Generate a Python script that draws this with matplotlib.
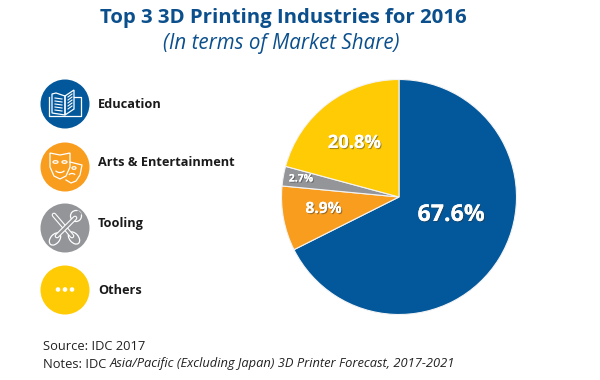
import matplotlib
matplotlib.use('Agg')
from matplotlib import pyplot as plt
from matplotlib.patches import Circle, Ellipse, Arc, Polygon
import matplotlib.patheffects as pe

plt.rcParams['font.family'] = ['Open Sans', 'DejaVu Sans']

categories = ['Education', 'Arts & Entertainment', 'Tooling', 'Others']
shares = [67.6, 8.9, 2.7, 20.8]
share_labels = ['67.6%', '8.9%', '2.7%', '20.8%']
colors = ['#03589b', '#f99d1e', '#939598', '#ffcb05']
label_sizes = [16.7, 11.2, 7.5, 13.2]
label_x = [0.443, -0.643, -0.834, -0.379]
label_y = [-0.153, -0.102, 0.153, 0.46]

title = 'Top 3 3D Printing Industries for 2016'
subtitle = '(In terms of Market Share)'
source = 'Source: IDC 2017'

W, H = 600, 380
fig = plt.figure(figsize=(6, 3.8), dpi=100)

# 整张图的像素坐标 用来放图标和文字
bg = fig.add_axes([0, 0, 1, 1])
bg.set_xlim(0, W)
bg.set_ylim(H, 0)
bg.axis('off')

bg.text(283.5, 18, title, color='#0b4f8c', fontsize=14.7, fontweight='bold', ha='center', va='center')
bg.text(281, 43, subtitle, color='#0b4f8c', fontsize=14.8, style='italic', ha='center', va='center')

icon_y = [104, 167, 228, 290]
text_y = [105, 163, 224, 290]
for name, c, iy, ty in zip(categories, colors, icon_y, text_y):
    bg.add_patch(Circle((65, iy), 24.5, color=c, lw=0))
    bg.text(98, ty, name, color='#1a1a1a', fontsize=9.2, fontweight='bold', va='center')

# 书
y = icon_y[0]
line = dict(color='white', lw=0.9, fill=False)
bg.add_patch(Polygon([(65, y - 8), (56, y - 11), (52, y - 10), (52, y + 9), (65, y + 11)], **line))
bg.add_patch(Polygon([(65, y - 8), (74, y - 14), (74, y + 5), (65, y + 11)], **line))
bg.plot([49, 49, 65, 81, 81, 74], [y - 7, y + 12, y + 12, y + 12, y - 7, y - 7], color='white', lw=0.9)
for k in range(5):
    bg.plot([55, 62], [y - 6 + k * 3, y - 5 + k * 3], color='white', lw=0.8)
    bg.plot([68, 72], [y - 5 + k * 3 - 2, y - 8 + k * 3 - 2], color='white', lw=0.8)

# 面具
y = icon_y[1]
bg.add_patch(Polygon([(50, y - 14), (60, y - 12), (70, y - 14), (70, y), (66, y + 9), (60, y + 12),
                      (54, y + 9), (50, y)], **line))
bg.add_patch(Ellipse((55.5, y - 5), 5, 2.6, **line))
bg.add_patch(Ellipse((64.5, y - 5), 5, 2.6, **line))
bg.add_patch(Arc((60, y + 2), 10, 7, theta1=20, theta2=160, color='white', lw=0.9))
bg.plot([70, 82, 80, 76, 71, 66], [y - 5, y - 2, y + 8, y + 14, y + 16, y + 13], color='white', lw=0.9)
bg.add_patch(Ellipse((74, y + 1), 4, 2.6, **line))
bg.add_patch(Arc((72, y + 9), 7, 5, theta1=200, theta2=340, color='white', lw=0.9))

# 工具
y = icon_y[2]
bg.plot([54, 72], [y - 13, y + 8], color='white', lw=3.4, solid_capstyle='round')
bg.plot([54, 72], [y - 13, y + 8], color=colors[2], lw=1.8, solid_capstyle='round')
bg.add_patch(Ellipse((74, y + 10), 9, 14, angle=-40, fc=colors[2], ec='white', lw=0.9))
bg.plot([75, 57], [y - 10, y + 8], color='white', lw=3.4, solid_capstyle='round')
bg.plot([75, 57], [y - 10, y + 8], color=colors[2], lw=1.8, solid_capstyle='round')
bg.add_patch(Circle((76, y - 12), 5.5, fc=colors[2], ec='white', lw=0.9))
bg.add_patch(Polygon([(78, y - 18), (82, y - 14), (77, y - 11), (75, y - 13)], color=colors[2], lw=0))
bg.add_patch(Ellipse((55, y + 11), 9, 14, angle=40, fc=colors[2], ec='white', lw=0.9))

# 三个点
y = icon_y[3]
for dx in [-7, 0, 7]:
    bg.add_patch(Circle((65 + dx, y - 0.5), 2.3, color='white', lw=0))

bg.text(43, 347, source, color='#222222', fontsize=9.3, va='center')
bg.text(43, 364, 'Notes: IDC', color='#222222', fontsize=9.3, va='center')
bg.text(110, 364, 'Asia/Pacific (Excluding Japan) 3D Printer Forecast, 2017-2021', color='#222222',
        fontsize=9.3, style='italic', va='center')

# 饼图
cx, cy, r = 399, 197, 117.5
ax = fig.add_axes([(cx - r) / W, 1 - (cy + r) / H, 2 * r / W, 2 * r / H])
wedges, _ = ax.pie(shares, colors=colors, startangle=90, counterclock=False, radius=1,
                   wedgeprops=dict(edgecolor='#f4f4f4', linewidth=0.8))
ax.set_xlim(-1, 1)
ax.set_ylim(-1, 1)

for lab, fs, px, py in zip(share_labels, label_sizes, label_x, label_y):
    t = ax.text(px, py, lab, color='white', fontsize=fs, fontweight='bold', ha='center', va='center')
    t.set_path_effects([pe.withSimplePatchShadow(offset=(0.8, -0.8), shadow_rgbFace='#333333', alpha=0.45),
                        pe.Normal()])

fig.savefig('out.png', dpi=100)
